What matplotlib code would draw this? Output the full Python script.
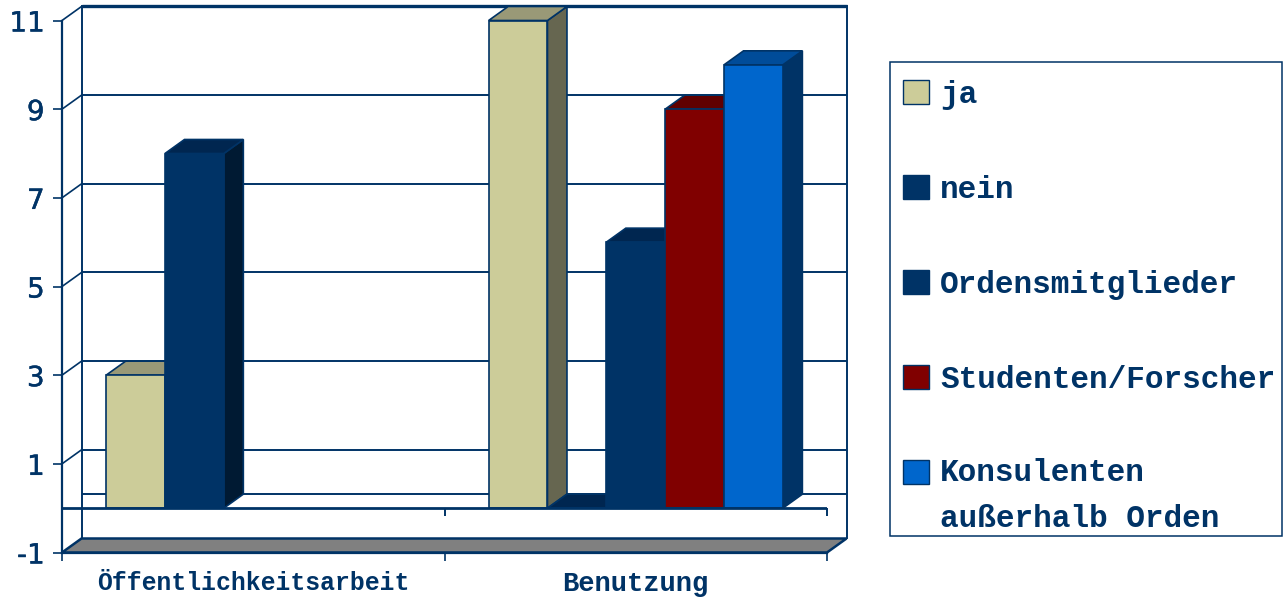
#!/usr/bin/env python3
import numpy as np
import matplotlib
matplotlib.use('Agg')
import matplotlib.pyplot as plt
from matplotlib.patches import Polygon, Rectangle
import matplotlib.patheffects as pe

categories = ['Öffentlichkeitsarbeit', 'Benutzung']
series = ['ja', 'nein', 'Ordensmitglieder', 'Studenten/Forscher', 'Konsulenten\naußerhalb Orden']
ja = [3, 11]
nein = [8, 0]
orden = [np.nan, 6]
studenten = [np.nan, 9]
konsulenten = [np.nan, 10]
values = [ja, nein, orden, studenten, konsulenten]
yticks = [-1, 1, 3, 5, 7, 9, 11]

# front, top, side
colors = [('#CCCC99', '#999977', '#666650'),
          ('#003366', '#002650', '#001A33'),
          ('#003366', '#002650', '#001A33'),
          ('#800000', '#600000', '#400000'),
          ('#0066CC', '#004C99', '#003366')]
edge = '#003366'
W, H = 1283, 597

plt.rcParams['axes.unicode_minus'] = False
fig = plt.figure(figsize=(W / 100, H / 100), dpi=100)
ax = fig.add_axes([62 / W, (H - 552.5) / H, 765 / W, 532 / H])
ax.set_xlim(-0.5, 1.5)
ax.set_ylim(-1, 11)

# depth of the fake 3d box, in data units
dx = 19.5 / 382.5
dy = 14 / 44.33
bar_w = 1 / 6.5
gap = 0.75 / 6.5

# back wall
for v in [0, 1, 3, 5, 7, 9, 11]:
    lw = 2.4 if v == 11 else 1.4
    ax.plot([-0.5 + dx, 1.5 + dx], [v + dy, v + dy], color=edge, lw=lw, clip_on=False, zorder=1,
            solid_capstyle='butt')
for v in yticks[1:]:
    ax.plot([-0.5, -0.5 + dx], [v, v + dy], color=edge, lw=1.2, clip_on=False, zorder=1)
ax.plot([-0.5 + dx] * 2, [-1 + dy, 11 + dy], color=edge, lw=1.4, clip_on=False, zorder=1)
ax.plot([1.5 + dx] * 2, [-1 + dy, 11 + dy], color=edge, lw=1.4, clip_on=False, zorder=1)

# floor
ax.add_patch(Polygon([(-0.5, -1), (1.5, -1), (1.5 + dx, -1 + dy), (-0.5 + dx, -1 + dy)],
                     closed=True, fc='#808080', ec=edge, lw=1.8, clip_on=False, zorder=2))

# bars, left to right so the next bar covers the side of the last one
for c in range(len(categories)):
    start = c - 0.5 + gap
    for i, vals in enumerate(values):
        v = vals[c]
        if np.isnan(v):
            continue
        x0 = start + i * bar_w
        x1 = x0 + bar_w
        front, top, side = colors[i]
        z = 3 + i * 0.1
        ax.add_patch(Polygon([(x1, 0), (x1 + dx, dy), (x1 + dx, v + dy), (x1, v)],
                             closed=True, fc=side, ec=edge, lw=1.2, clip_on=False, zorder=z))
        ax.add_patch(Polygon([(x0, v), (x1, v), (x1 + dx, v + dy), (x0 + dx, v + dy)],
                             closed=True, fc=top, ec=edge, lw=1.2, clip_on=False, zorder=z))
        if v > 0:
            ax.add_patch(Rectangle((x0, 0), bar_w, v, fc=front, ec=edge, lw=1.2,
                                   clip_on=False, zorder=z + 0.01))

# front zero line
ax.axhline(0, color=edge, lw=2, zorder=4)
ax.vlines([-0.5, 0.5, 1.5], -0.18, 0, color=edge, lw=1.4, zorder=4, clip_on=False)

for s in ['top', 'right']:
    ax.spines[s].set_visible(False)
for s in ['left', 'bottom']:
    ax.spines[s].set_color(edge)
    ax.spines[s].set_linewidth(1.6)
ax.spines['bottom'].set_zorder(5)

ax.set_yticks(yticks)
ax.tick_params(axis='y', length=6.5, width=1.2, color=edge, pad=6, labelsize=20, labelcolor=edge)
ax.set_xticks([-0.5, 0.5, 1.5])
ax.set_xticklabels([])
ax.tick_params(axis='x', length=6, width=1.2, color=edge)
ax.set_xticks([0, 1], minor=True)
ax.set_xticklabels(categories, minor=True, family='Liberation Mono', weight='bold', color=edge)
ax.tick_params(axis='x', which='minor', length=0, pad=13, labelsize=17.8)
ax.get_xticklabels(minor=True)[1].set_fontsize(19.5)
for t in ax.get_yticklabels():
    t.set_path_effects([pe.withStroke(linewidth=0.3, foreground=edge)])

# legend box
fig.add_artist(Rectangle((890 / W, (H - 536) / H), 392 / W, 474 / H, transform=fig.transFigure,
                         fc='white', ec=edge, lw=1.1))
for i, name in enumerate(series):
    y = 92 + i * 95
    fig.add_artist(Rectangle((903 / W, (H - y - 12) / H), 26 / W, 24 / H, transform=fig.transFigure,
                             fc=colors[i][0], ec=edge, lw=1))
    top = y - 14 if '\n' in name else y - 12
    fig.text(940 / W, (H - top) / H, name, family='Liberation Mono', weight='bold', color=edge,
             fontsize=22.4, va='top', linespacing=1.7)

fig.savefig('out.png', dpi=100)
